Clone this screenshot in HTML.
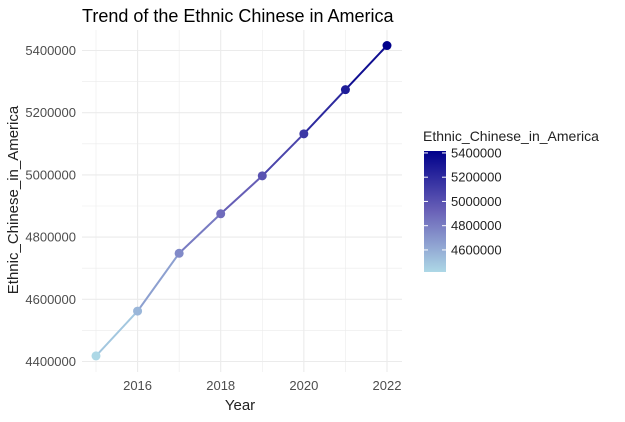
<!DOCTYPE html>
<html><head><meta charset="utf-8"><style>
body{margin:0;background:#fff;font-family:"Liberation Sans",Arial,sans-serif}
</style></head><body>
<svg id="chart" width="625" height="417" xmlns="http://www.w3.org/2000/svg">
<defs><linearGradient id="cb" x1="0" y1="1" x2="0" y2="0">
<stop offset="0" stop-color="#add8e6"/><stop offset="0.5" stop-color="#6a62b8"/><stop offset="1" stop-color="#00008b"/></linearGradient></defs>
<text x="82" y="22" font-size="18" fill="#000">Trend of the Ethnic Chinese in America</text>
<g id="grid"></g><g id="series"></g><g id="axes"></g>
<text x="240" y="410" font-size="15" text-anchor="middle" fill="#222">Year</text>
<text transform="translate(18,200) rotate(-90)" font-size="15" text-anchor="middle" fill="#222">Ethnic_Chinese_in_America</text>
<g>
<text x="423" y="141" font-size="14" fill="#222">Ethnic_Chinese_in_America</text>
<rect x="424" y="151" width="22" height="121" fill="url(#cb)"/>
<g id="legticks"></g>
</g>
</svg>
<script>
const years=[2015,2016,2017,2018,2019,2020,2021,2022];
const values=[4418000,4562000,4748000,4875000,4997000,5132000,5274000,5416000];
const yTicks=[4400000,4600000,4800000,5000000,5200000,5400000];
const xTicks=[2016,2018,2020,2022];
const legTicks=[4600000,4800000,5000000,5200000,5400000];
const NS="http://www.w3.org/2000/svg";
const xs=v=>96+(v-2015)*41.57;
const ys=v=>361.5-(v-4400000)*311e-6;
function mk(t,a,p){const e=document.createElementNS(NS,t);for(const k in a)e.setAttribute(k,a[k]);p.appendChild(e);return e;}
const vmin=Math.min(...values),vmax=Math.max(...values);
function col(v){const t=(v-vmin)/(vmax-vmin);const c0=[173,216,230],c1=[106,98,184],c2=[0,0,139];let a,b,u;if(t<0.5){a=c0;b=c1;u=t*2}else{a=c1;b=c2;u=(t-0.5)*2}return `rgb(${a.map((x,i)=>Math.round(x+(b[i]-x)*u)).join(',')})`;}
const grid=document.getElementById('grid'),ser=document.getElementById('series'),ax=document.getElementById('axes');
for(let v=4300000;v<=5500000;v+=100000){const y=ys(v);if(y<30||y>372)continue;
const g=mk('line',{x1:82,x2:402,y1:y,y2:y,stroke:'#ebebeb','stroke-width':v%200000===0?1.1:0.6},grid);
}
for(let yr=2015;yr<=2022;yr++){const x=xs(yr);
const g=mk('line',{x1:x,x2:x,y1:30,y2:372,stroke:'#ebebeb','stroke-width':yr%2===0?1.1:0.6},grid);
}
for(let i=0;i<years.length-1;i++){
const l=mk('line',{x1:xs(years[i]),y1:ys(values[i]),x2:xs(years[i+1]),y2:ys(values[i+1]),stroke:col((values[i]+values[i+1])/2),'stroke-width':2},ser);
}
years.forEach((yr,i)=>{const c=mk('circle',{cx:xs(yr),cy:ys(values[i]),r:4.5,fill:col(values[i])},ser);
});
yTicks.forEach(v=>{const t=mk('text',{x:76,y:ys(v)+4.5,'font-size':13,'text-anchor':'end',fill:'#4d4d4d'},ax);t.textContent=v;
});
xTicks.forEach(v=>{const t=mk('text',{x:xs(v),y:390,'font-size':13,'text-anchor':'middle',fill:'#4d4d4d'},ax);t.textContent=v;
});
const lt=document.getElementById('legticks');
const ly=v=>272-(v-vmin)*121/(vmax-vmin);
legTicks.forEach(v=>{const y=ly(v);
const a=mk('line',{x1:424,x2:428,y1:y,y2:y,stroke:'#fff'},lt);
const b=mk('line',{x1:442,x2:446,y1:y,y2:y,stroke:'#fff'},lt);
const t=mk('text',{x:451,y:y+4.5,'font-size':13,fill:'#222'},lt);t.textContent=v;
});
</script>
</body></html>
